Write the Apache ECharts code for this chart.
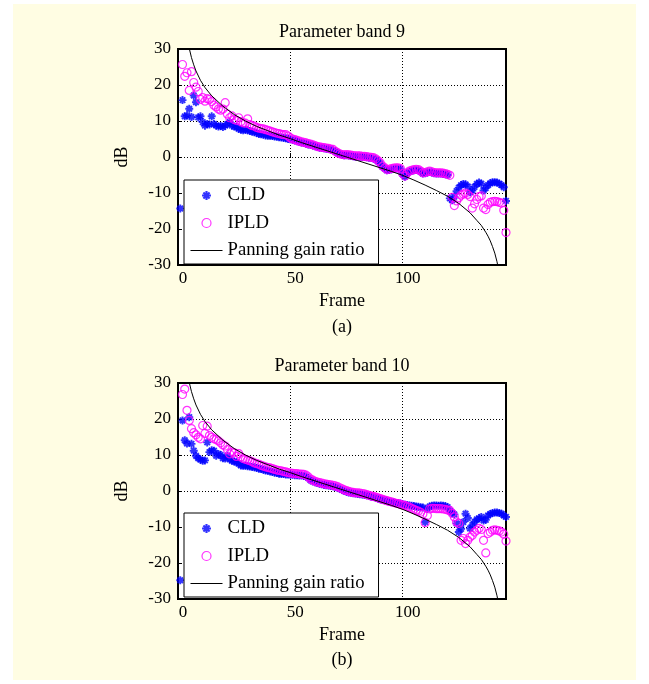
<!DOCTYPE html>
<html>
<head>
<meta charset="utf-8">
<script src="https://cdn.jsdelivr.net/npm/echarts@6/dist/echarts.min.js"></script>
<style>
  html, body { margin: 0; padding: 0; background: #fff; }
  #paper { position: absolute; left: 13px; top: 4px; width: 623px; height: 676px; background: #fffde3; }
  #main { position: absolute; left: 0; top: 0; width: 649px; height: 684px; }
</style>
</head>
<body>
<div id="paper"></div>
<div id="main"></div>
<script>
// frames run 1..146, one value per frame (null = not visible)
var cldA = [-14.3, 15.8, 11.3, 11.5, 13.4, 11.1, 17.1, 15.2, 11.0, 11.3,
  9.7, 8.7, 9.2, 9.0, 11.3, 9.2, 8.7, 8.5, 8.6, 8.3,
  8.7, 9.2, 9.7, 8.7, 8.5, 8.3, 7.8, 7.6, 7.4, 7.6,
  7.4, 7.2, 7.0, 6.9, 6.7, 6.4, 6.3, 6.2, 6.0, 5.9,
  5.9, 5.8, 5.7, 5.6, 5.5, 5.4, 5.3, 5.2, 5.0, 4.9,
  4.8, 4.6, 4.4, 4.2, 4.0, 3.9, 3.7, 3.5, 3.4, 3.2,
  3.0, 2.8, 2.6, 2.5, 2.4, 2.3, 2.2, 2.0, 1.9, 1.5,
  1.1, 0.8, 0.6, 0.5, 0.5, 0.4, 0.3, 0.2, 0.1, 0.1,
  0.1, 0.0, 0.0, -0.1, -0.2, -0.3, -0.4, -0.7, -1.2, -1.8,
  -2.7, -3.2, -3.7, -3.6, -3.4, -3.3, -3.2, -3.2, -3.4, -4.8,
  -5.5, -4.6, -4.1, -3.9, -3.7, -3.6, -3.7, -4.1, -4.6, -4.5,
  -4.3, -4.1, -4.3, -4.5, -4.6, -4.6, -4.6, -4.7, -4.8, -5.0,
  -11.5, -12.0, -11.0, -9.5, -8.5, -7.8, -7.5, -7.6, -8.2, -9.8,
  -9.3, -8.3, -7.5, -7.1, -7.4, -9.3, -8.6, -7.8, -7.3, -7.0,
  -7.0, -7.1, -7.4, -7.8, -8.4, -12.2];

var ipldA = [null, 25.7, 22.4, 23.4, 18.5, 23.7, 20.7, 19.4, 18.2, 16.0,
  16.5, 15.5, 16.2, 16.0, 15.4, 14.4, 13.9, 13.3, 13.0, 13.3,
  15.1, 11.9, 10.9, 11.4, 10.4, 10.2, 10.9, 9.8, 9.5, 9.4,
  10.6, 9.0, 8.7, 8.6, 8.2, 8.0, 7.9, 7.8, 7.6, 7.4,
  7.2, 7.0, 6.8, 6.6, 6.5, 6.3, 6.2, 6.2, 5.8, 5.3,
  5.0, 4.8, 4.6, 4.4, 4.2, 4.1, 3.9, 3.7, 3.6, 3.4,
  3.2, 2.9, 2.8, 2.7, 2.6, 2.5, 2.4, 2.2, 2.1, 1.6,
  1.2, 0.9, 0.7, 0.6, 0.7, 0.6, 0.5, 0.4, 0.3, 0.3,
  0.3, 0.2, 0.2, 0.1, 0.0, -0.1, -0.2, -0.5, -1.0, -1.6,
  -2.5, -3.0, -3.5, -3.4, -3.2, -3.1, -3.0, -3.0, -3.2, -4.6,
  -5.3, -4.4, -3.9, -3.7, -3.5, -3.4, -3.5, -3.9, -4.4, -4.3,
  -4.1, -3.9, -4.1, -4.3, -4.4, -4.4, -4.4, -4.5, -4.6, -4.8,
  -5.1, -11.2, -13.5, -12.2, -11.3, -10.6, -10.3, -10.0, -10.4, -11.0,
  -14.2, -13.0, -11.8, -11.0, -10.8, -14.2, -14.6, -13.2, -12.6, -12.4,
  -12.3, -12.4, -12.6, -12.8, -14.8, -21.0];

var cldB = [-24.8, 19.6, 14.1, 13.2, 20.5, 13.1, 11.2, 9.8, 9.1, 8.7,
  8.4, 8.5, 13.5, 10.8, 11.3, 11.2, 9.8, 10.3, 10.0, 9.1,
  9.0, 9.8, 8.8, 8.4, 8.2, 8.0, 7.6, 7.1, 7.0, 7.0,
  6.9, 6.8, 6.7, 6.6, 6.4, 6.2, 6.1, 5.9, 5.7, 5.6,
  5.4, 5.3, 5.1, 5.0, 4.8, 4.7, 4.7, 4.6, 4.6, 4.5,
  4.5, 4.4, 4.4, 4.3, 4.3, 4.2, 4.0, 3.6, 3.0, 2.7,
  2.4, 2.2, 2.0, 1.9, 1.7, 1.6, 1.5, 1.4, 1.3, 1.1,
  0.9, 0.6, 0.3, 0.0, -0.2, -0.4, -0.5, -0.6, -0.7, -0.8,
  -0.9, -1.0, -1.1, -1.2, -1.4, -1.6, -1.7, -1.9, -2.1, -2.3,
  -2.5, -2.6, -2.8, -3.0, -3.1, -3.2, -3.3, -3.4, -3.5, -3.7,
  -3.8, -3.9, -4.0, -4.1, -4.2, -4.3, -4.4, -4.5, -4.6, -8.6,
  -5.0, -4.3, -4.1, -4.0, -4.0, -4.1, -4.0, -4.1, -4.2, -4.5,
  -5.6, -6.0, -6.5, -9.0, -11.4, -10.5, -8.6, -6.3, -7.5, -10.4,
  -9.5, -8.6, -7.9, -7.6, -7.2, -8.2, -8.0, -6.8, -6.4, -6.1,
  -6.0, -6.0, -6.1, -6.3, -6.8, -7.2];

var ipldB = [null, 26.8, 28.3, 22.4, 19.6, 17.3, 16.2, 15.6, 14.9, 14.5,
  18.2, 16.0, 18.0, 15.4, 14.9, 14.5, 14.3, 13.9, 13.4, 12.8,
  12.5, 11.5, 10.3, 10.8, 10.6, 9.6, 10.4, 9.5, 9.0, 8.8,
  8.6, 8.4, 8.1, 7.8, 7.6, 7.4, 7.1, 6.9, 6.7, 6.5,
  6.4, 6.2, 6.0, 5.8, 5.7, 5.6, 5.4, 5.3, 5.1, 5.0,
  4.9, 4.8, 4.8, 4.7, 4.7, 4.6, 4.4, 3.9, 3.3, 3.0,
  2.7, 2.5, 2.3, 2.2, 2.0, 1.9, 1.8, 1.7, 1.6, 1.4,
  1.2, 0.9, 0.6, 0.3, 0.1, -0.1, -0.3, -0.4, -0.5, -0.5,
  -0.6, -0.7, -0.8, -1.0, -1.2, -1.4, -1.5, -1.7, -1.9, -2.1,
  -2.3, -2.5, -2.7, -2.9, -3.0, -3.2, -3.4, -3.5, -3.7, -3.9,
  -4.0, -4.3, -4.5, -4.8, -5.1, -5.4, -5.6, -5.9, -6.4, -8.8,
  -6.8, -5.0, -4.8, -4.8, -4.9, -4.9, -4.9, -5.0, -5.1, -5.3,
  -5.4, -6.2, -7.2, -8.6, -9.0, -13.7, -13.2, -14.6, -13.7, -12.8,
  -12.3, -11.4, -10.9, -10.4, -10.7, -13.7, -17.2, -11.8, -11.4, -10.9,
  -10.8, -10.9, -11.1, -11.4, -12.0, -13.9];

// panning gain ratio curve
var panFrames = [4.6, 5, 6, 7, 8, 10, 12, 15, 20, 25, 30, 35, 40, 45, 50, 55, 60, 65, 70, 75,
  80, 85, 90, 95, 100, 105, 110, 115, 120, 125, 130, 133, 135, 137, 138, 139, 140, 141, 142, 142.6];
var panDb = [31.5, 30.2, 27.6, 25.6, 23.9, 21.3, 19.3, 17.0, 14.1, 11.8, 10.0, 8.5, 7.3, 6.1, 5.1, 4.0, 3.0, 2.0, 1.0, 0.0,
  -1.0, -2.0, -3.0, -4.0, -5.1, -6.4, -7.8, -9.3, -10.9, -12.9, -15.5, -17.6, -19.0, -20.9, -22.0, -23.3, -24.9, -26.7, -29.1, -31.0];

var yTicks = [-30, -20, -10, 0, 10, 20, 30];
var xTicks = [0, 50, 100];

function pairs(vals) {
  return vals.map(function (v, i) { return [i + 1, v]; });
}
function panPairs() {
  return panFrames.map(function (f, i) { return [f, panDb[i]]; });
}

var FONT = '"Liberation Serif", "Times New Roman", serif';
var starPath = 'path://M-1.2,-5L1.2,-5L1.2,5L-1.2,5Z M-5,-1.2L5,-1.2L5,1.2L-5,1.2Z ' +
  'M-2.6,-4.3L4.3,2.6L2.6,4.3L-4.3,-2.6Z M4.3,-2.6L-2.6,4.3L-4.3,2.6L2.6,-4.3Z';

function xAxisOpt(idx) {
  return {
    gridIndex: idx, type: 'value', min: 0, max: 146, interval: 50,
    name: 'Frame', nameLocation: 'middle', nameGap: 27,
    nameTextStyle: { fontFamily: FONT, fontSize: 18, color: '#000' },
    axisLine: { show: false },
    axisTick: { show: true, inside: true, length: 4, lineStyle: { color: '#000' } },
    axisLabel: {
      fontFamily: FONT, fontSize: 17, color: '#000', margin: 5, padding: [0, 0, 0, 10],
      formatter: function (v) { return xTicks.indexOf(v) >= 0 ? String(v) : ''; }
    },
    splitLine: { show: true, lineStyle: { color: '#000', type: [1, 2], width: 1 } }
  };
}
function yAxisOpt(idx) {
  return {
    gridIndex: idx, type: 'value', min: yTicks[0], max: yTicks[yTicks.length - 1], interval: 10,
    name: 'dB', nameLocation: 'middle', nameGap: 47, nameRotate: 90,
    nameTextStyle: { fontFamily: FONT, fontSize: 18, color: '#000' },
    axisLine: { show: false },
    axisTick: { show: true, inside: true, length: 4, lineStyle: { color: '#000' } },
    axisLabel: { fontFamily: FONT, fontSize: 17, color: '#000', margin: 7 },
    splitLine: { show: true, lineStyle: { color: '#000', type: [1, 2], width: 1 } }
  };
}
function legendOpt(top) {
  return {
    orient: 'vertical', left: 184, top: top,
    itemWidth: 32, itemHeight: 9, itemGap: 8.5,
    padding: [6, 14, 4, 6],
    backgroundColor: '#fff', borderColor: '#000', borderWidth: 1, borderRadius: 0,
    textStyle: { fontFamily: FONT, fontSize: 18.7, color: '#000' },
    selectedMode: false,
    data: [
      { name: 'CLD', itemStyle: { borderWidth: 0 } },
      { name: 'IPLD', itemStyle: { borderWidth: 1.2, borderColor: '#ff00ff', color: 'rgba(0,0,0,0)' } },
      {
        name: 'Panning gain ratio',
        itemStyle: { color: 'rgba(0,0,0,0)', borderColor: 'rgba(0,0,0,0)', borderWidth: 0 },
        lineStyle: { color: '#000', width: 1 }
      }
    ]
  };
}
function seriesFor(idx, cld, ipld) {
  return [
    {
      name: 'CLD', type: 'scatter', xAxisIndex: idx, yAxisIndex: idx,
      symbol: starPath, symbolSize: 8, symbolKeepAspect: true,
      itemStyle: { color: '#0000ff' },
      data: pairs(cld)
    },
    {
      name: 'IPLD', type: 'scatter', xAxisIndex: idx, yAxisIndex: idx,
      symbol: 'circle', symbolSize: 8,
      itemStyle: { color: 'rgba(0,0,0,0)', borderColor: '#ff00ff', borderWidth: 1.2 },
      data: pairs(ipld)
    },
    {
      name: 'Panning gain ratio', type: 'line', xAxisIndex: idx, yAxisIndex: idx,
      symbol: 'none', smooth: false, clip: true,
      lineStyle: { color: '#000', width: 1 }, itemStyle: { color: '#000' },
      data: panPairs()
    }
  ];
}
function label(text, x, y, size) {
  return {
    type: 'text', x: x, y: y,
    style: {
      text: text, fill: '#000', font: size + 'px ' + FONT,
      textAlign: 'center', textVerticalAlign: 'middle', align: 'center', verticalAlign: 'middle'
    }
  };
}

var chart = echarts.init(document.getElementById('main'), null, { renderer: 'canvas' });
chart.setOption({
  animation: false,
  backgroundColor: 'transparent',
  grid: [
    { left: 178, top: 49, width: 328, height: 216, show: true, backgroundColor: '#fff', borderColor: '#000', borderWidth: 2 },
    { left: 178, top: 383, width: 328, height: 216, show: true, backgroundColor: '#fff', borderColor: '#000', borderWidth: 2 }
  ],
  xAxis: [xAxisOpt(0), xAxisOpt(1)],
  yAxis: [yAxisOpt(0), yAxisOpt(1)],
  legend: [legendOpt(180), legendOpt(513)],
  graphic: [
    label('Parameter band 9', 342, 32, 18),
    label('(a)', 342, 327, 18),
    label('Parameter band 10', 342, 366, 18),
    label('(b)', 342, 660, 18)
  ],
  series: seriesFor(0, cldA, ipldA).concat(seriesFor(1, cldB, ipldB))
});
</script>
</body>
</html>
